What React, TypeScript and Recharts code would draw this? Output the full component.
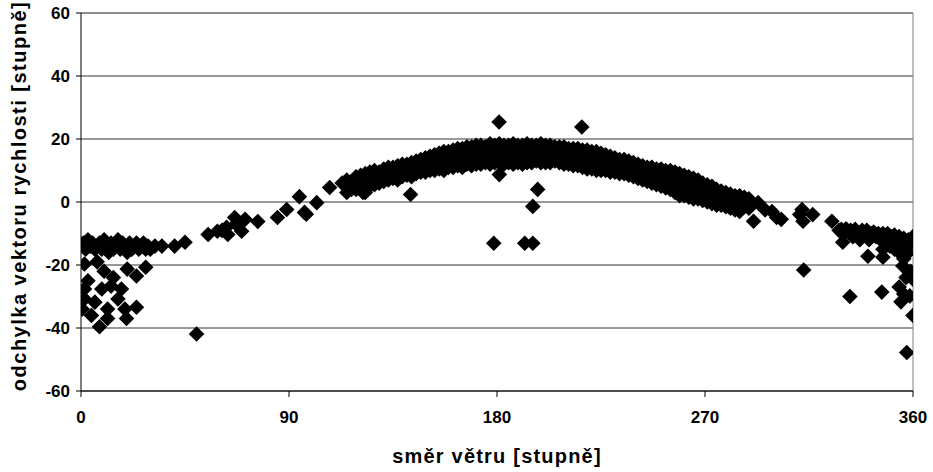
import React from "react";
import {
  ScatterChart,
  Scatter,
  XAxis,
  YAxis,
  CartesianGrid,
  ReferenceLine,
} from "recharts";

document.body.style.margin = "0";

const FONT = "Arial, 'Liberation Sans', sans-serif";

const xTicks = [0, 90, 180, 270, 360];
const yTicks = [-60, -40, -20, 0, 20, 40, 60];

// [direction, deviation]
const leftBand = [
  [1, -13], [2, -15], [3, -12], [4, -14], [5, -13], [6, -15], [7, -14], [8, -13],
  [9, -15], [10, -12], [11, -14], [12, -16], [13, -13], [14, -15], [15, -14], [16, -12],
  [17, -15], [18, -13], [19, -14], [20, -16], [21, -13], [22, -15], [23, -14], [24, -13],
  [25, -15], [26, -14], [27, -13], [28, -15], [29, -14], [30, -15], [32, -14], [35, -14],
];

const leftScatter = [
  [1.5, -19.7], [7, -19], [20, -21.3], [28, -20.7], [24, -23.5], [1.5, -27.6],
  [1.5, -30.8], [0.5, -34], [4.5, -36], [9, -27.6], [13, -26.7], [16, -30.8],
  [11.5, -34], [8, -39.6], [11.5, -37], [19.7, -37], [24, -33.4], [17.5, -27.6],
  [6, -31.8], [19, -34], [14, -24], [3, -25], [10, -22], [50, -41.9],
];

const rising = [
  [40.5, -14], [45, -12.8], [55, -10.3], [59, -9.3], [63, -8], [66.5, -4.9],
  [63.5, -10.3], [69.5, -9.3], [71, -5.5], [76.5, -6.2], [85, -4.9], [89, -2.4],
  [94.5, 1.7], [97.5, -3.9], [102, -0.2], [107.6, 4.6], [117.5, 6.5], [96.7, -3.3],
  [113, 6], [67, -7], [61, -9],
];

// direction, deviations stacked in the dense band
const mainBandRows: [number, number[]][] = [
  [115, [7, 5, 3]], [117, [6.5, 4]], [119, [8, 6, 4]], [121, [8.5, 6.5, 4.5]],
  [123, [9, 7, 3]], [125, [9.5, 7, 5]], [127, [10, 8, 5.5]], [129, [9.5, 7.5, 6]],
  [131, [10.5, 8.5, 6.5]], [133, [11, 9, 7]], [135, [11, 9.5, 7.5]], [137, [11.5, 9, 7]],
  [139, [12, 10, 8]], [141, [12, 10.5, 8.5]], [143, [12.5, 10, 8]], [145, [13, 11, 9]],
  [147, [13.5, 11.5, 9.5]], [149, [14, 12, 9.5]], [151, [14.5, 12, 10]], [153, [15, 12.5, 10]],
  [155, [15.5, 13, 10.5]], [157, [16, 13, 10]], [159, [16, 13.5, 11]], [161, [16.5, 14, 11]],
  [163, [17, 14, 11.5]], [165, [17, 14.5, 11]], [167, [17.5, 14.5, 12]], [169, [17.5, 15, 11.5]],
  [171, [18, 15, 12]], [173, [18, 15.5, 12]], [175, [17.5, 15, 12.5]], [177, [18.5, 15.5, 12]],
  [179, [18, 15, 12.5]], [181, [18.5, 15.5, 12.5]], [183, [18, 15, 12]], [185, [18, 15.5, 12.5]],
  [187, [18.5, 15, 12]], [189, [18, 15.5, 12.5]], [191, [18, 15, 12]], [193, [18.5, 15.5, 12.5]],
  [195, [18, 15, 12.5]], [197, [18, 15.5, 13]], [199, [18.5, 15, 12.5]], [201, [18, 15.5, 12.5]],
  [203, [18, 15, 12.5]], [205, [17.5, 15, 13]], [207, [17.5, 15, 12.5]], [209, [17.5, 14.5, 12]],
  [211, [17, 14.5, 12]], [213, [17, 14, 11.5]], [215, [17, 14, 11.5]], [217, [16.5, 13.5, 11]],
  [219, [16.5, 13.5, 10.5]], [221, [16, 13, 10.5]], [223, [16, 13, 10]], [225, [15.5, 12.5, 10]],
  [227, [15, 12.5, 10]], [229, [14.5, 12, 9.5]], [231, [14, 11.5, 9.5]], [233, [13.5, 11.5, 9]],
  [235, [13.5, 11, 9]], [237, [13, 10.5, 8.5]], [239, [12.5, 10, 8]], [241, [12, 10, 7.5]],
  [243, [11.5, 9.5, 7]], [245, [11, 9, 6.5]], [247, [11, 8.5, 6]], [249, [10.5, 8, 5.5]],
  [251, [10.5, 7.5, 5]], [253, [10, 7, 4.5]], [255, [10, 7, 4]], [257, [9.5, 6, 3]],
  [259, [9, 5.5, 2]], [261, [8.5, 5, 2]], [263, [8, 4.5, 1.5]], [265, [7.5, 4, 1]],
  [267, [7, 3.5, 1]], [269, [6, 3, 0.5]], [271, [5.5, 2.5, 0]], [273, [5, 2, -0.5]],
  [275, [4, 1.5, -1]], [277, [3.5, 1, -1]], [279, [3, 0.5, -1.5]], [281, [2.5, 0, -2]],
  [283, [2, -0.5, -2.5]], [285, [2, -1, -3]], [287, [1.5, -1.5]], [289, [1, -2]],
];

const centreOutliers = [
  [178.6, -13.1], [192, -13.1], [195.5, -13.1], [197.6, 4], [195.5, -1.4],
  [180.9, 25.4], [216.7, 23.8], [181, 8.7], [142.6, 2.4], [122, 3],
];

const tail = [
  [291, -6.1], [293, -0.2], [296, -2.5], [299, -3], [301, -4.9], [303, -5.5],
  [311, -4], [312, -2.4], [312.4, -6.1], [316.6, -4], [324.9, -6.1], [312.7, -21.6],
];

const rightCluster = [
  [328, -9], [329, -8.7], [330, -10], [331, -8.5], [333, -9], [334, -11], [335, -8.7],
  [336, -10], [337, -12], [338, -9], [339, -10.5], [340, -9], [341, -12], [342, -10],
  [343, -9.5], [344, -11], [345, -10], [346, -12], [347, -10], [348, -11], [349, -10],
  [350, -12], [351, -11], [352, -10.5], [353, -12], [354, -11], [355, -13], [356, -11.5],
  [357, -14], [358, -12], [359, -13], [360, -11], [358, -16], [356, -18], [354, -16],
  [352, -15], [350, -14], [347, -15], [329.6, -12.8], [340.5, -17.2], [347, -17.5],
  [355.6, -20.3], [360, -24.5], [354, -27], [356, -29.2], [354.8, -31.7], [358.6, -29.8],
  [357, -24], [359, -22], [332.7, -30], [346.5, -28.6], [357.3, -47.8], [360, -36],
];

const toPoints = (arr: number[][]) => arr.map(([x, y]) => ({ x, y }));
const mainBand = mainBandRows.flatMap(([x, ys]) => ys.map((y) => ({ x, y })));

const Diamond = (props: any) => {
  const { cx, cy } = props;
  const r = 7.8;
  return (
    <polygon
      points={`${cx},${cy - r} ${cx + r},${cy} ${cx},${cy + r} ${cx - r},${cy}`}
      fill="#000"
    />
  );
};

const tickStyle = { fontFamily: FONT, fontWeight: "bold", fontSize: 17, fill: "#000" };

const XTitle = (props: any) => {
  const { viewBox } = props;
  return (
    <text
      x={viewBox.x + viewBox.width / 2}
      y={viewBox.y + 72}
      textAnchor="middle"
      fontFamily={FONT}
      fontWeight="bold"
      fontSize={20}
      letterSpacing={1.2}
      fill="#000"
    >
      směr větru [stupně]
    </text>
  );
};

const YTitle = (props: any) => {
  const { viewBox } = props;
  const cy = viewBox.y + viewBox.height / 2 - 6;
  return (
    <text
      x={26}
      y={cy}
      transform={`rotate(-90, 26, ${cy})`}
      textAnchor="middle"
      fontFamily={FONT}
      fontWeight="bold"
      fontSize={20}
      letterSpacing={1.5}
      fill="#000"
    >
      odchylka vektoru rychlosti [stupně]
    </text>
  );
};

const series = [leftBand, leftScatter, rising, centreOutliers, tail, rightCluster];

export default function App() {
  return (
    <div style={{ width: 933, height: 472, background: "#fff" }}>
      <ScatterChart
        width={933}
        height={472}
        margin={{ top: 13, right: 20, left: 0, bottom: 0 }}
      >
        <CartesianGrid vertical={false} stroke="#333" />
        <XAxis
          type="number"
          dataKey="x"
          domain={[0, 360]}
          ticks={xTicks}
          height={81}
          tickSize={6}
          tickMargin={14}
          tick={tickStyle}
          stroke="#000"
          allowDataOverflow
          label={<XTitle />}
        />
        <YAxis
          type="number"
          dataKey="y"
          domain={[-60, 60]}
          ticks={yTicks}
          width={81}
          tickSize={5}
          tickMargin={6}
          tick={tickStyle}
          stroke="#000"
          allowDataOverflow
          label={<YTitle />}
        />
        <ReferenceLine y={60} stroke="#808080" />
        <ReferenceLine x={360} stroke="#808080" />
        <Scatter data={mainBand} shape={Diamond} isAnimationActive={false} />
        {series.map((s, i) => (
          <Scatter key={i} data={toPoints(s)} shape={Diamond} isAnimationActive={false} />
        ))}
      </ScatterChart>
    </div>
  );
}
